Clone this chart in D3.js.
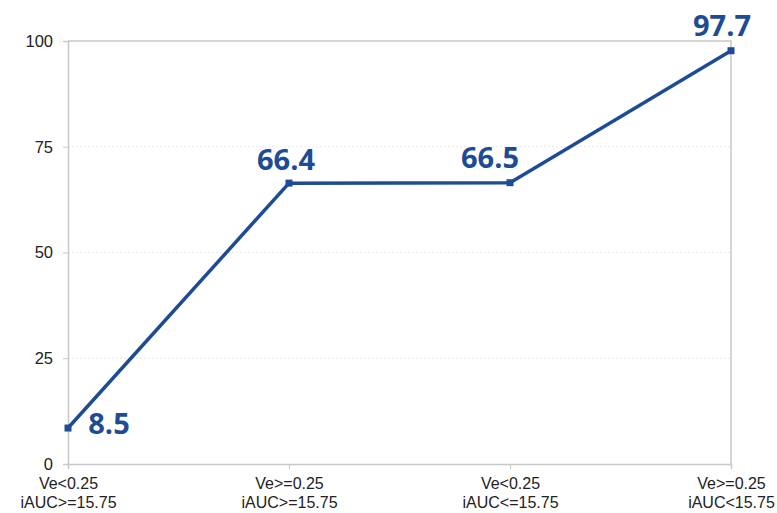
<!DOCTYPE html>
<html><head><meta charset="utf-8">
<script src="https://cdn.jsdelivr.net/npm/d3@7"></script>
<style>body{margin:0;background:#fff}svg{display:block}</style>
</head><body>
<svg id="c" width="777" height="513"></svg>
<script>
const categories = [["Ve<0.25","iAUC>=15.75"],["Ve>=0.25","iAUC>=15.75"],["Ve<0.25","iAUC<=15.75"],["Ve>=0.25","iAUC<15.75"]];
const values = [8.5, 66.4, 66.5, 97.7];
const valueLabels = ["8.5","66.4","66.5","97.7"];
const yTicks = [0, 25, 50, 75, 100];

const svg = d3.select("#c");
const m = {l:68, r:46, t:41, b:49};
const W = 777, H = 513;
const x = d3.scalePoint().domain(d3.range(categories.length)).range([m.l, W - m.r]);
const y = d3.scaleLinear().domain([0, 100]).range([H - m.b, m.t]);
const col = "#1d4c95";

// gridlines
svg.append("g").selectAll("line").data(yTicks.filter(d => d > 0 && d < 100)).join("line")
  .attr("x1", m.l).attr("x2", W - m.r).attr("y1", d => y(d)).attr("y2", d => y(d))
  .attr("stroke", "#e8e8e8").attr("stroke-dasharray", "2,2");

// frame top/right
svg.append("path").attr("d", `M${m.l},${y(100)}H${W - m.r}V${y(0)}`)
  .attr("fill", "none").attr("stroke", "#c8c8c8").attr("stroke-width", 1.5);

// y axis
const ya = svg.append("g").attr("transform", `translate(${m.l},0)`)
  .call(d3.axisLeft(y).tickValues(yTicks).tickSize(5).tickPadding(10));
ya.select(".domain").attr("stroke", "#c8c8c8").attr("stroke-width", 1.5);
ya.selectAll(".tick line").attr("stroke", "#c8c8c8");
ya.selectAll("text").attr("font-family", "Liberation Sans, Arial, sans-serif").attr("font-size", 16.5).attr("fill", "#222");

// x axis
const xa = svg.append("g").attr("transform", `translate(0,${y(0)})`)
  .call(d3.axisBottom(x).tickSize(5).tickFormat(""));
xa.select(".domain").attr("stroke", "#c8c8c8").attr("stroke-width", 1.5);
xa.selectAll(".tick line").attr("stroke", "#c8c8c8");
xa.selectAll(".tick").each(function(d) {
  const t = d3.select(this).append("text").attr("fill", "#222")
    .attr("font-family", "Liberation Sans, Arial, sans-serif").attr("font-size", 16)
    .attr("text-anchor", "middle");
  categories[d].forEach((s, i) => t.append("tspan").attr("x", 0).attr("y", 25 + i * 19).text(s));
});

// line
svg.append("path").datum(values)
  .attr("d", d3.line().x((d, i) => x(i)).y(d => y(d)))
  .attr("fill", "none").attr("stroke", col).attr("stroke-width", 3.5).attr("stroke-linejoin", "round");

svg.append("g").selectAll("rect").data(values).join("rect")
  .attr("x", (d, i) => x(i) - 3.5).attr("y", d => y(d) - 3.5)
  .attr("width", 7).attr("height", 7).attr("fill", col);

// labels
const offs = [[41, 6], [-3, -13], [-20, -15], [-9, -15]];
svg.append("g").selectAll("text").data(values).join("text")
  .attr("x", (d, i) => x(i) + offs[i][0]).attr("y", (d, i) => y(d) + offs[i][1])
  .attr("text-anchor", "middle")
  .attr("font-family", "Open Sans, Liberation Sans, sans-serif").attr("font-weight", "bold")
  .attr("font-size", 29).attr("fill", col)
  .text((d, i) => valueLabels[i]);
</script>
</body></html>
